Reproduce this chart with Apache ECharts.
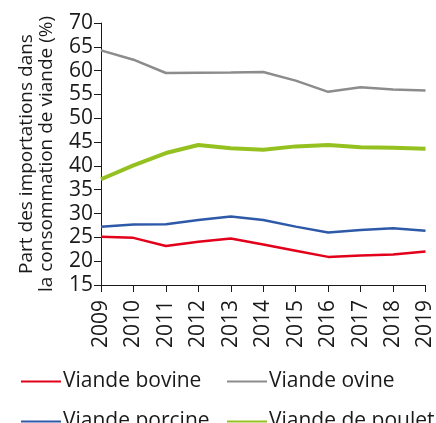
<!DOCTYPE html>
<html><head><meta charset="utf-8">
<script src="https://cdn.jsdelivr.net/npm/echarts@6/dist/echarts.min.js"></script>
<style>html,body{margin:0;padding:0;background:#fff}#c{width:436px;height:423px}</style>
</head><body><div id="c"></div>
<script>
const years = ['2009','2010','2011','2012','2013','2014','2015','2016','2017','2018','2019'];
const bovine = [25.15, 24.9, 23.2, 24.1, 24.75, 23.5, 22.2, 20.9, 21.2, 21.4, 22.05];
const ovine = [64.25, 62.3, 59.5, 59.55, 59.6, 59.7, 57.9, 55.55, 56.5, 56.05, 55.85];
const porcine = [27.25, 27.7, 27.75, 28.65, 29.4, 28.65, 27.25, 26.0, 26.55, 26.9, 26.4];
const poulet = [37.2, 40.1, 42.7, 44.4, 43.7, 43.4, 44.1, 44.4, 43.9, 43.8, 43.6];
const yTitle = 'Part des importations dans\nla consommation de viande (%)';

const font = 'Open Sans';
const chart = echarts.init(document.getElementById('c'), null, {renderer:'canvas'});
function s(name, data, color, w){
  return {name, type:'line', data, symbol:'none', smooth:false,
    lineStyle:{color, width:w}, itemStyle:{color}, emphasis:{disabled:true}};
}
const legendText = {fontFamily:font, fontSize:21, color:'#1a1a1a', padding:[0,0,6,-3]};
function lg(name, left, top){
  return {left, top, padding:0, orient:'horizontal', itemWidth:40, itemHeight:14, itemGap:0,
    data:[name], textStyle:legendText, itemStyle:{opacity:0}, selectedMode:false};
}
chart.setOption({
  animation:false,
  textStyle:{fontFamily:font},
  grid:{left:101, right:10, top:23, bottom:138, containLabel:false},
  xAxis:{type:'category', data:years, boundaryGap:false,
    axisLine:{lineStyle:{color:'#1a1a1a', width:1}},
    axisTick:{show:true, length:7, alignWithLabel:true, lineStyle:{color:'#1a1a1a'}},
    axisLabel:{rotate:90, fontFamily:font, fontSize:21, color:'#1a1a1a', margin:15, interval:0},
    splitLine:{show:false}},
  yAxis:{type:'value', min:15, max:70, interval:5,
    axisLine:{show:true, lineStyle:{color:'#1a1a1a', width:1}},
    axisTick:{show:true, length:7, lineStyle:{color:'#1a1a1a'}},
    axisLabel:{fontFamily:font, fontSize:21, color:'#1a1a1a', margin:8},
    splitLine:{show:false},
    name:yTitle, nameLocation:'middle', nameGap:44, nameRotate:90,
    nameTextStyle:{fontFamily:font, fontSize:19, color:'#1a1a1a', lineHeight:20}},
  legend:[
    lg('Viande bovine', 20, 371),
    lg('Viande ovine', 226, 371),
    lg('Viande porcine', 20, 411),
    lg('Viande de poulet', 226, 411)
  ],
  series:[
    s('Viande bovine', bovine, '#e2001a', 2.5),
    s('Viande ovine', ovine, '#8c8c8c', 2.5),
    s('Viande porcine', porcine, '#2e59a8', 2.5),
    s('Viande de poulet', poulet, '#94c11f', 4)
  ]
});
</script></body></html>
